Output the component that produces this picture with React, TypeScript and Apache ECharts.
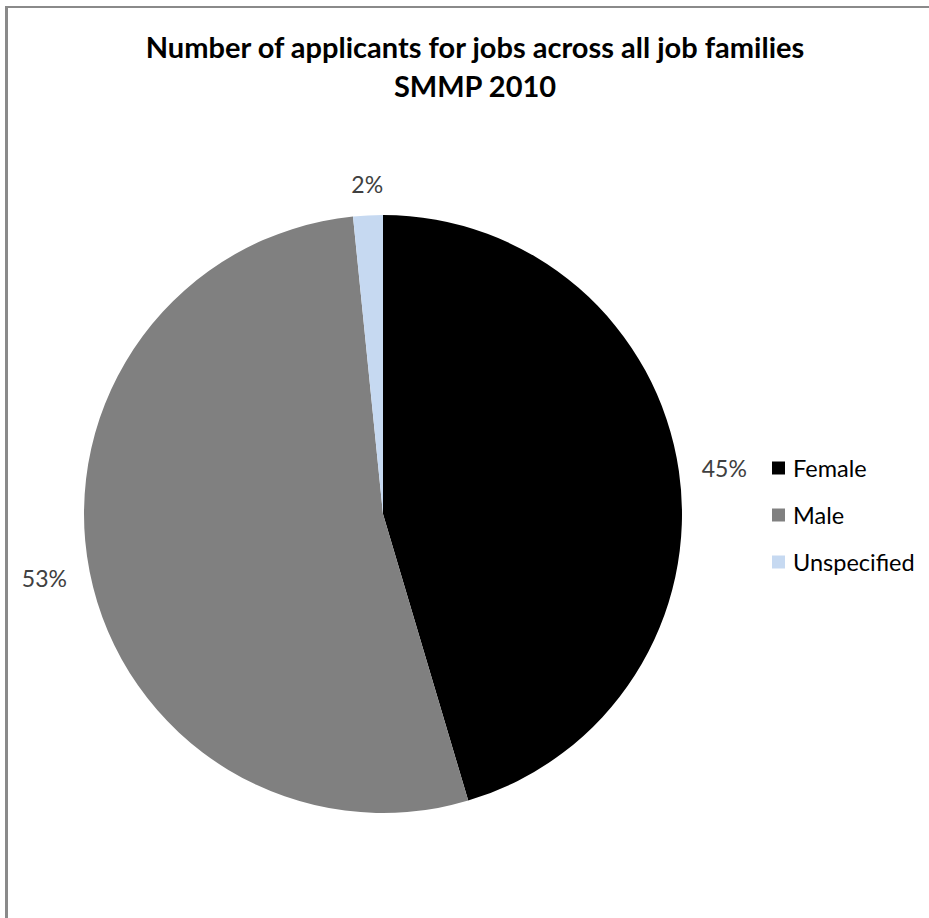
import React, { useEffect, useRef } from "react";
import * as echarts from "echarts";

const titleLines = ["Number of applicants for jobs across all job families", "SMMP 2010"];
const categories = ["Female", "Male", "Unspecified"];
const values = [454, 530, 16];
const colors = ["#000000", "#808080", "#C6D9F1"];

export default function App() {
  const ref = useRef<HTMLDivElement>(null);
  useEffect(() => {
    document.body.style.margin = "0";
    const chart = echarts.init(ref.current!, undefined, { renderer: "svg" });
    const total = values.reduce((a, b) => a + b, 0);
    chart.setOption({
      animation: false,
      backgroundColor: "#ffffff",
      title: {
        text: titleLines.join("\n"),
        left: 470,
        textAlign: "center",
        top: 22,
        textStyle: {
          fontFamily: "Lato",
          fontWeight: "bold",
          fontSize: 29,
          lineHeight: 39,
          color: "#000000",
        },
      },
      legend: {
        orient: "vertical",
        left: 767,
        top: 451,
        itemWidth: 13,
        itemHeight: 13,
        itemGap: 23,
        icon: "rect",
        data: categories,
        textStyle: { fontFamily: "Lato", fontSize: 23.5, color: "#000000", padding: [0, 0, 0, 3] },
      },
      graphic: [
        { type: "line", shape: { x1: 6.5, y1: 6, x2: 6.5, y2: 918 }, style: { stroke: "#8a8a8a", lineWidth: 3 } },
        { type: "line", shape: { x1: 5, y1: 7, x2: 929, y2: 7 }, style: { stroke: "#8a8a8a", lineWidth: 2 } },
      ],
      series: [
        {
          type: "pie",
          center: [383, 514],
          radius: [0, 299],
          startAngle: 90,
          clockwise: true,
          color: colors,
          data: categories.map((c, i) => ({ name: c, value: values[i] })),
          itemStyle: { borderWidth: 0 },
          label: {
            show: true,
            position: "outside",
            fontFamily: "Lato",
            fontSize: 23,
            color: "#404040",
            formatter: (p: any) => Math.round((p.value / total) * 100) + "%",
          },
          labelLine: { show: false, length: 18, length2: 0 },
          labelLayout: (p: any) => (p.dataIndex === 2 ? { dx: 21, dy: -13 } : p.dataIndex === 1 ? { dy: 3 } : {}),
        },
      ],
    });
    return () => chart.dispose();
  }, []);
  return <div ref={ref} style={{ width: 929, height: 918 }} />;
}
